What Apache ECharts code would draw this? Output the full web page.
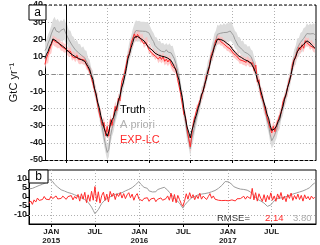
<!DOCTYPE html>
<html><head><meta charset="utf-8">
<script src="https://cdn.jsdelivr.net/npm/echarts@6/dist/echarts.min.js"></script>
<style>html,body{margin:0;padding:0;background:#fff}#c{width:320px;height:245px}</style>
</head><body><div id="c"></div>
<script>
// ---- data (weekly samples starting 2014-10-01) ----
const startDate = '2014-10-01';
const stepDays = 7;
const truth = [
 9, 11.4, 13.1, 15.8, 17.6, 20.3, 20.8, 19.2, 18.9, 17.5,
 17.3, 16.2, 16.4, 14.7, 14.3, 12.6, 12.5, 11.2, 11.1, 10.0,
 10.2, 9.0, 9.1, 8.2, 8.4, 7.2, 6.8, 4.2, 2.4, -0.8,
 -3.2, -8.3, -11.6, -16.4, -19.5, -24.3, -27.6, -31.4, -34.1, -36.3,
 -33.6, -29.4, -26.6, -25.3, -21.6, -19.4, -15.6, -12.8, -8.1, -5.3,
 -1.2, 3.2, 8.8, 11.7, 15.3, 18.2, 21.3, 21.8, 21.7, 20.7,
 20.5, 19.6, 19.2, 17.9, 17.2, 15.3, 15.0, 14.0, 13.4, 12.0,
 11.8, 11.0, 11.0, 10.3, 10.6, 9.9, 9.9, 9.1, 9.0, 7.8,
 7.0, 4.3, 2.2, -0.8, -3.7, -9.3, -13.7, -20.4, -25.7, -30.8,
 -33.7, -37.2, -32.8, -29.8, -26.2, -23.3, -19.7, -16.8, -12.2, -10.3,
 -6.2, -3.3, 1.3, 4.2, 8.8, 11.7, 15.3, 17.7, 20.1, 19.8,
 20.0, 19.3, 19.2, 18.1, 17.7, 16.6, 16.3, 14.8, 14.0, 12.6,
 12.0, 10.6, 10.4, 9.5, 9.3, 8.3, 8.2, 7.5, 7.5, 6.3,
 5.2, 2.8, 0.3, -3.2, -5.8, -9.3, -12.7, -16.3, -19.2, -23.3,
 -25.7, -29.8, -32.8, -32.7, -31.8, -30.2, -27.7, -25.8, -21.7, -18.8,
 -14.7, -11.8, -7.7, -4.8, -0.7, 3.7, 7.8, 9.7, 12.8, 13.7,
 15.5, 16.0, 17.2, 18.1, 19.2, 18.3, 18.0, 16.8, 16.2, 15.0
];
// A priori minus truth (panel b, grey)
const diffPrior = [
 4.5, 3.6, 4.8, 4.2, 5.6, 5.2, 6.4, 5.8, 7.1, 6.6,
 8.0, 8.3, 9.8, 9.0, 8.6, 7.2, 7.0, 5.5, 5.3, 4.0,
 4.6, 3.3, 3.8, 2.5, 3.1, 2.0, 2.6, 1.2, 1.8, 0.4,
 1.0, -0.5, 0.2, -1.4, -1.6, -3.0, -3.8, -5.6, -7.4, -9.3,
 -10.2, -7.0, -5.2, -3.6, -3.0, -1.6, -1.9, -0.4, -0.8, 0.6,
 0.2, 1.4, 0.8, 1.9, 1.2, 2.4, 2.2, 3.4, 2.9, 4.2,
 3.8, 5.2, 5.6, 6.8, 7.4, 8.6, 7.2, 6.2, 5.4, 4.4,
 4.8, 3.4, 3.9, 2.8, 3.5, 2.9, 4.1, 3.6, 4.8, 4.4,
 5.4, 4.6, 3.8, 2.6, 1.8, 0.4, -0.2, -1.6, -1.8, -3.4,
 -4.4, -6.2, -4.6, -4.0, -2.4, -1.8, -0.6, -0.9, 0.3, -0.2,
 1.2, 0.7, 1.6, 1.0, 1.9, 1.4, 2.3, 1.8, 2.9, 2.6,
 3.6, 3.4, 4.8, 4.9, 6.4, 7.1, 8.6, 9.2, 8.4, 7.3,
 7.0, 5.8, 6.4, 5.0, 5.6, 4.4, 5.0, 4.2, 4.9, 3.8,
 4.2, 2.8, 2.2, 0.8, 0.2, -1.2, -0.8, -2.2, -2.0, -3.4,
 -3.8, -5.2, -6.0, -4.4, -3.2, -2.6, -1.2, -1.6, -0.6, -1.4,
 -0.4, -1.0, 0.2, -0.3, 0.9, 0.4, 1.6, 1.1, 2.2, 1.7,
 2.8, 2.4, 3.4, 3.0, 4.2, 4.0, 5.2, 5.8, 7.2, 7.8
];
// EXP-LC minus truth (panel b, red)
const diffExp = [
 -3.5, -2.2, -4.1, -1.6, -2.8, -0.6, -1.9, -0.8, -1.4, 0.3,
 -1.2, -0.2, -1.5, 0.4, -0.9, -0.3, 0.6, -1.1, -0.2, -0.8,
 0.5, -0.6, -1.3, 0.2, -0.7, 0.8, -1.6, 0.3, -0.9, 1.4,
 -2.3, 1.8, -1.2, 2.6, -3.1, 1.2, -2.4, 3.2, -1.8, 5.8,
 -2.6, 2.9, -3.4, 0.8, 2.7, -1.9, 1.6, -2.8, 3.1, 0.2,
 2.2, -1.4, 1.8, 0.3, 2.5, -0.6, 1.9, -0.9, 1.2, 2.4,
 -0.4, 1.6, -1.8, 0.7, 1.9, -1.1, -0.2, -2.1, -0.8, -1.6,
 -0.4, -2.4, -1.1, -1.9, -0.6, -2.6, -1.3, -2.2, -0.5, -1.8,
 -2.8, -0.9, 0.6, -1.8, 2.1, -2.6, 1.4, -3.2, 0.9, -1.4,
 -3.6, -5.2, -2.1, 1.8, -1.2, 2.4, -0.6, 1.3, -1.5, 0.8,
 -0.9, 2.1, -1.2, 0.5, 1.6, -1.4, 0.2, 1.9, -0.7, 0.6,
 -1.2, -0.3, -1.8, -0.9, -2.0, -1.1, -1.9, -0.8, -2.1, -1.3,
 -1.6, -0.7, -2.2, -1.0, -1.7, -0.9, -1.5, 0.4, -1.2, 0.3,
 1.2, -0.9, 4.8, -1.6, 2.4, -2.3, 1.8, -0.6, -2.4, 1.3,
 -2.7, 0.9, -1.5, 2.3, -1.8, 0.6, -2.4, 1.7, -0.9, 2.5,
 -1.6, 0.4, -2.6, 1.4, -0.8, 2.2, -1.9, 0.8, -1.2, 1.6,
 -1.4, 0.9, -2.3, 1.2, -1.1, 0.3, -1.6, 0.5, -0.9, -0.2
];
// monthly 1-sigma half widths, Oct 2014 .. Jan 2018
const priorUnc = [5,6,6,5.5,5,4.5,4,4,4.5,4.5,4,4.5,5.5,6,5.5,5,4.5,4,4,4,4.5,4.5,4,4.5,5.5,5.5,5.5,5,4.5,4,4,4,4.5,4.5,4,4.5,5.5,6,6,6];
const expUnc = [3,2.8,2.6,2.5,2.4,2.4,2.6,2.8,3,3,2.8,2.6,2.6,2.5,2.4,2.4,2.4,2.5,2.7,2.9,3,3,2.8,2.6,2.6,2.5,2.4,2.4,2.4,2.5,2.7,2.9,3,3,2.8,2.6,2.6,2.5,2.5,2.5];
const tickDates = ['2015-01-01','2015-07-01','2016-01-01','2016-07-01','2017-01-01','2017-07-01'];
const tickLabels = ['JAN\n2015','JUL','JAN\n2016','JUL','JAN\n2017','JUL'];
const axisStart = '2014-10-01', axisEnd = '2018-01-01';
const yTicksB = [-10,-5,0,5,10];
const legendNames = ['Truth','A priori','EXP-LC'];
const rmseExp = '2.14', rmsePrior = '3.80';

// ---- build ----
const DAY = 86400000;
const t0 = Date.parse(startDate);
const times = truth.map((_, i) => t0 + i * stepDays * DAY);
const mIdx = t => { const d = new Date(t); return (d.getUTCFullYear() - 2014) * 12 + d.getUTCMonth() - 9; };
const prior = truth.map((v, i) => v + diffPrior[i]);
const expLC = truth.map((v, i) => v + diffExp[i]);
const priorLo = prior.map((v, i) => v - priorUnc[mIdx(times[i])]);
const priorHi = prior.map((v, i) => v + priorUnc[mIdx(times[i])]);
const expLo = expLC.map((v, i) => v - expUnc[mIdx(times[i])]);
const expHi = expLC.map((v, i) => v + expUnc[mIdx(times[i])]);
const tickTimes = tickDates.map(Date.parse);
const pair = arr => arr.map((v, i) => [times[i], +v.toFixed(2)]);

const C = { red: '#ff2b2b', pink: '#ffbdbd', grey: '#9c9c9c', band: '#dcdcdc', grid: '#b0b0b0' };
const gA = { left: 29, top: 5, width: 287, height: 155 };
const gB = { left: 29, top: 170, width: 287, height: 55 };

const lineBase = { type: 'line', symbol: 'none', animation: false, silent: true };
function band(lo, hi, color, opacity) {
  return {
    type: 'custom', xAxisIndex: 0, yAxisIndex: 0, silent: true, animation: false,
    data: times.map((t, i) => [t, +lo[i].toFixed(2), +hi[i].toFixed(2)]),
    encode: { x: 0, y: [1, 2] },
    renderItem: (params, api) => {
      if (params.dataIndex !== 0) return null;
      const pts = [];
      for (let i = 0; i < times.length; i++) pts.push(api.coord([times[i], hi[i]]));
      for (let i = times.length - 1; i >= 0; i--) pts.push(api.coord([times[i], lo[i]]));
      const cs = params.coordSys;
      return { type: 'polygon', shape: { points: pts }, style: { fill: color, opacity: opacity },
        clipPath: { type: 'rect', shape: { x: cs.x, y: cs.y, width: cs.width, height: cs.height } } };
    }
  };
}
const fmt = v => { for (let k = 0; k < tickTimes.length; k++) if (Math.abs(tickTimes[k] - v) < DAY) return tickLabels[k]; return ''; };
const xBase = (gi) => ({
  type: 'value', gridIndex: gi, min: Date.parse(axisStart), max: Date.parse(axisEnd),
  axisLine: { onZero: false, lineStyle: { color: '#000', width: 1, type: gi === 0 ? [3, 2] : 'solid' } },
  axisTick: { show: true, customValues: tickTimes, length: 3, lineStyle: { color: '#000' } },
  splitLine: { show: true, lineStyle: { color: C.grid, type: [1, 2] } },
  axisLabel: gi === 0 ? { show: false, customValues: tickTimes } : { customValues: tickTimes, formatter: fmt, fontSize: 8, fontWeight: 'bold', color: '#222', lineHeight: 9, margin: 3, fontFamily: 'Liberation Sans' }
});

const option = {
  animation: false,
  grid: [
    Object.assign({ show: false }, gA),
    Object.assign({ show: true, borderColor: '#000', borderWidth: 1, backgroundColor: 'transparent' }, gB)
  ],
  xAxis: [xBase(0), xBase(1)],
  yAxis: [
    { type: 'value', gridIndex: 0, min: -50, max: 40, interval: 10,
      axisLine: { show: true, lineStyle: { color: '#000' } },
      axisTick: { show: true, length: 3, lineStyle: { color: '#000' } },
      axisLabel: { fontSize: 9, color: '#222', margin: 2, fontFamily: 'Liberation Sans', fontWeight: 'bold' },
      splitLine: { show: true, lineStyle: { color: C.grid, type: [1, 2] } },
      name: 'GtC yr⁻¹', nameLocation: 'middle', nameGap: 19, nameRotate: 90,
      nameTextStyle: { fontSize: 11, color: '#111', fontFamily: 'Liberation Sans' } },
    { type: 'value', gridIndex: 1, min: -15, max: 15,
      axisLine: { show: true, lineStyle: { color: '#000' } },
      axisTick: { show: true, length: 3, customValues: yTicksB, lineStyle: { color: '#000' } },
      axisLabel: { customValues: yTicksB, fontSize: 9, color: '#222', margin: 2, fontFamily: 'Liberation Sans', fontWeight: 'bold' },
      splitLine: { show: false } }
  ],
  series: [
    band(priorLo, priorHi, C.band, 1),
    band(expLo, expHi, C.pink, 0.8),
    Object.assign({}, lineBase, { name: legendNames[1], xAxisIndex: 0, yAxisIndex: 0, data: pair(prior),
      lineStyle: { color: C.grey, width: 1 },
      markLine: { silent: true, symbol: 'none', label: { show: false }, animation: false,
        data: [{ yAxis: 0, lineStyle: { color: '#8a8a8a', type: [4, 3], width: 1 } }] } }),
    Object.assign({}, lineBase, { name: legendNames[2], xAxisIndex: 0, yAxisIndex: 0, data: pair(expLC),
      lineStyle: { color: C.red, width: 1 } }),
    Object.assign({}, lineBase, { name: legendNames[0], xAxisIndex: 0, yAxisIndex: 0, data: pair(truth),
      lineStyle: { color: '#000', width: 1 },
      markLine: { silent: true, symbol: 'none', label: { show: false }, animation: false,
        data: [{ xAxis: tickTimes[0], lineStyle: { color: '#000', type: 'solid', width: 1 } }] } }),
    Object.assign({}, lineBase, { xAxisIndex: 1, yAxisIndex: 1, data: pair(diffPrior),
      lineStyle: { color: C.grey, width: 1 },
      markLine: { silent: true, symbol: 'none', label: { show: false }, animation: false,
        lineStyle: { color: C.grid, type: [1, 2], width: 1 }, data: [{ yAxis: 10 }, { yAxis: -10 }] } }),
    Object.assign({}, lineBase, { xAxisIndex: 1, yAxisIndex: 1, data: pair(diffExp),
      lineStyle: { color: C.red, width: 1 } })
  ],
  graphic: [
    { type: 'line', shape: { x1: gA.left, y1: gA.top, x2: gA.left + gA.width, y2: gA.top }, style: { stroke: '#000', lineWidth: 1, lineDash: [3, 2] }, z: 100 },
    { type: 'line', shape: { x1: gA.left + gA.width, y1: gA.top, x2: gA.left + gA.width, y2: gA.top + gA.height }, style: { stroke: '#000', lineWidth: 1 }, z: 100 },
    { type: 'rect', shape: { x: gA.left, y: gA.top, width: 17, height: 15 }, style: { fill: '#fff', stroke: '#000', lineWidth: 1 }, z: 100 },
    { type: 'text', x: gA.left + 8.5, y: gA.top + 7.5, style: { text: 'a', fill: '#000', font: '12px "Liberation Sans"', textAlign: 'center', textVerticalAlign: 'middle' }, z: 101 },
    { type: 'rect', shape: { x: gB.left, y: gB.top, width: 19, height: 13 }, style: { fill: '#fff', stroke: '#000', lineWidth: 1 }, z: 100 },
    { type: 'text', x: gB.left + 9.5, y: gB.top + 6.5, style: { text: 'b', fill: '#000', font: '12px "Liberation Sans"', textAlign: 'center', textVerticalAlign: 'middle' }, z: 101 },
    { type: 'text', x: 120, y: 110, style: { text: legendNames[0], fill: '#000', font: '11px "Liberation Sans"', textVerticalAlign: 'middle' }, z: 101 },
    { type: 'text', x: 120, y: 125, style: { text: legendNames[1], fill: '#b0b0b0', font: '11px "Liberation Sans"', textVerticalAlign: 'middle' }, z: 101 },
    { type: 'text', x: 120, y: 140, style: { text: legendNames[2], fill: C.red, font: '11px "Liberation Sans"', textVerticalAlign: 'middle' }, z: 101 },
    { type: 'text', x: 217, y: 218, style: { text: 'RMSE=', fill: '#333', font: '9.5px "Liberation Sans"', textVerticalAlign: 'middle' }, z: 101 },
    { type: 'text', x: 265, y: 218, style: { text: rmseExp, fill: C.red, font: '9.5px "Liberation Sans"', textVerticalAlign: 'middle' }, z: 101 },
    { type: 'text', x: 293, y: 218, style: { text: rmsePrior, fill: '#aaaaaa', font: '9.5px "Liberation Sans"', textVerticalAlign: 'middle' }, z: 101 }
  ]
};
const chart = echarts.init(document.getElementById('c'), null, { renderer: 'canvas' });
chart.setOption(option);
</script>
</body></html>
